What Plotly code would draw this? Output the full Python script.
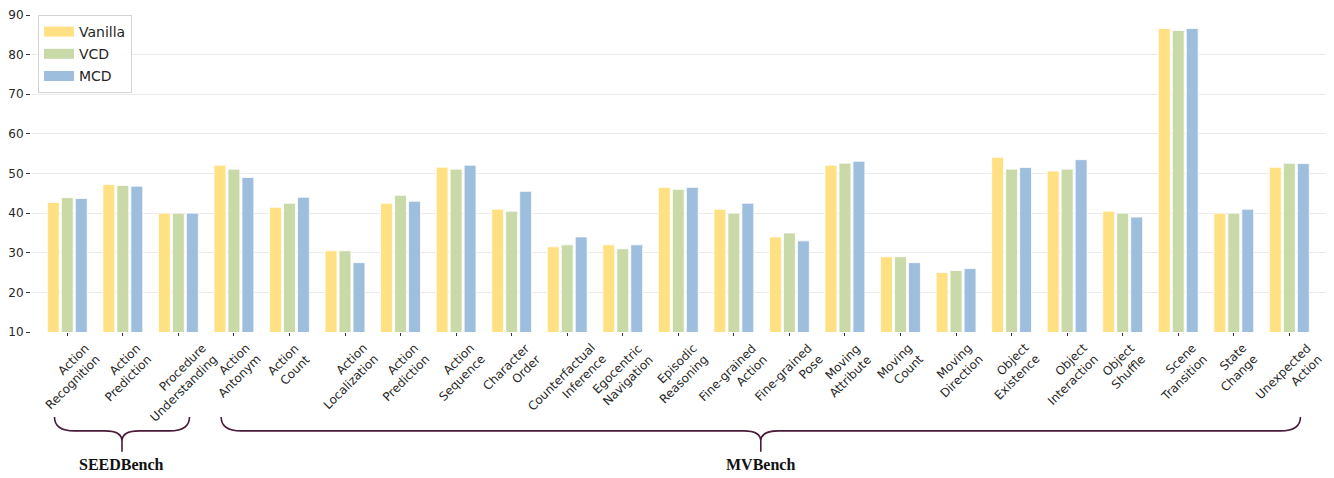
import plotly.graph_objects as go

# Per-task accuracy for three decoding strategies
categories = [
    "Action\nRecognition", "Action\nPrediction", "Procedure\nUnderstanding",
    "Action\nAntonym", "Action\nCount", "Action\nLocalization", "Action\nPrediction",
    "Action\nSequence", "Character\nOrder", "Counterfactual\nInference",
    "Egocentric\nNavigation", "Episodic\nReasoning", "Fine-grained\nAction",
    "Fine-grained\nPose", "Moving\nAttribute", "Moving\nCount", "Moving\nDirection",
    "Object\nExistence", "Object\nInteraction", "Object\nShuffle",
    "Scene\nTransition", "State\nChange", "Unexpected\nAction",
]
vanilla = [42.7, 47.2, 40.0, 52.1, 41.5, 30.5, 42.5, 51.6, 41.0, 31.5, 32.0, 46.5,
           41.0, 34.0, 52.1, 29.0, 25.0, 54.1, 50.6, 40.5, 86.6, 40.0, 51.6]
vcd = [43.9, 47.0, 40.0, 51.1, 42.5, 30.5, 44.5, 51.1, 40.5, 32.0, 31.0, 46.0,
       40.0, 35.0, 52.6, 29.0, 25.5, 51.1, 51.1, 40.0, 86.1, 40.0, 52.6]
mcd = [43.7, 46.8, 40.0, 49.0, 44.0, 27.5, 43.0, 52.1, 45.5, 34.0, 32.0, 46.5,
       42.5, 33.0, 53.1, 27.5, 26.0, 51.5, 53.5, 39.0, 86.6, 41.0, 52.5]

series_names = ["Vanilla", "VCD", "MCD"]
series_colors = ["#FFE083", "#C9D9A7", "#9DBEDD"]

bench_names = ["SEEDBench", "MVBench"]
bench_sizes = [3, 20]

y_ticks = [10, 20, 30, 40, 50, 60, 70, 80, 90]

FONT = "DejaVu Sans"
BRACE_COLOR = "#4A1A3A"

x_idx = list(range(len(categories)))

fig = go.Figure()
for name, vals, col in zip(series_names, [vanilla, vcd, mcd], series_colors):
    fig.add_trace(go.Bar(
        x=x_idx, y=vals, name=name, marker_color=col,
        marker_line=dict(color="white", width=0.8),
        showlegend=False,
    ))
# legend swatches as wide patches
for i, (name, col) in enumerate(zip(series_names, series_colors)):
    fig.add_trace(go.Scatter(
        x=[None], y=[None], mode="lines", name=name,
        line=dict(color=col, width=10), legendgroup=f"g{i}",
    ))

# rotated two-line category labels centred under each tick
for i, cat in enumerate(categories):
    fig.add_annotation(
        x=i, y=-0.02, xref="x", yref="paper",
        text=cat.replace("\n", "<br>"), showarrow=False,
        textangle=-45, xanchor="center", yanchor="top", align="right",
        font=dict(family=FONT, size=12, color="#262626"),
    )

# curly braces grouping the tasks by benchmark
y_top, y_h, y_cusp, y_bot = -0.268, -0.312, -0.344, -0.378
hook_w, mid_w = 0.36, 0.31
start = 0
for bname, size in zip(bench_names, bench_sizes):
    first, last = start, start + size - 1
    xl, xr = first - 0.23, last + 0.20
    xc = (xl + xr) / 2
    path = (
        f"M {xl},{y_top} Q {xl},{y_h} {xl + hook_w},{y_h} "
        f"L {xc - mid_w},{y_h} Q {xc},{y_h} {xc},{y_cusp} L {xc},{y_bot} "
        f"M {xc},{y_cusp} Q {xc},{y_h} {xc + mid_w},{y_h} "
        f"L {xr - hook_w},{y_h} Q {xr},{y_h} {xr},{y_top}"
    )
    fig.add_shape(type="path", path=path, xref="x", yref="paper",
                  line=dict(color=BRACE_COLOR, width=1.6))
    fig.add_annotation(
        x=xc, y=-0.417, xref="x", yref="paper", text=f"<b>{bname}</b>",
        showarrow=False, xanchor="center", yanchor="middle",
        font=dict(family="Liberation Serif", size=16, color="#111111"),
    )
    start += size

fig.update_layout(
    width=1334, height=478,
    margin=dict(l=30, r=8, t=9, b=146),
    plot_bgcolor="white", paper_bgcolor="white",
    barmode="group", bargap=0.245, bargroupgap=0.15,
    font=dict(family=FONT, size=12, color="#262626"),
    legend=dict(
        x=0.0054, y=1.0, xanchor="left", yanchor="top",
        bgcolor="rgba(255,255,255,0.85)", bordercolor="#D3D3D3", borderwidth=1,
        font=dict(family=FONT, size=14, color="#262626"),
        tracegroupgap=1,
    ),
    showlegend=True,
)
fig.update_xaxes(
    range=[-0.653, 22.66], tickvals=x_idx, ticktext=[""] * len(x_idx),
    showgrid=False, zeroline=False, showline=False,
    ticks="outside", ticklen=3, tickwidth=1, tickcolor="#333333",
)
fig.update_yaxes(
    range=[10, 90], tickvals=y_ticks, showgrid=True, gridcolor="#EBEBEB", gridwidth=1,
    zeroline=False, showline=False,
    ticks="outside", ticklen=4, tickwidth=1, tickcolor="#333333",
    tickfont=dict(family=FONT, size=12, color="#262626"),
)

fig.write_html("out.html")
